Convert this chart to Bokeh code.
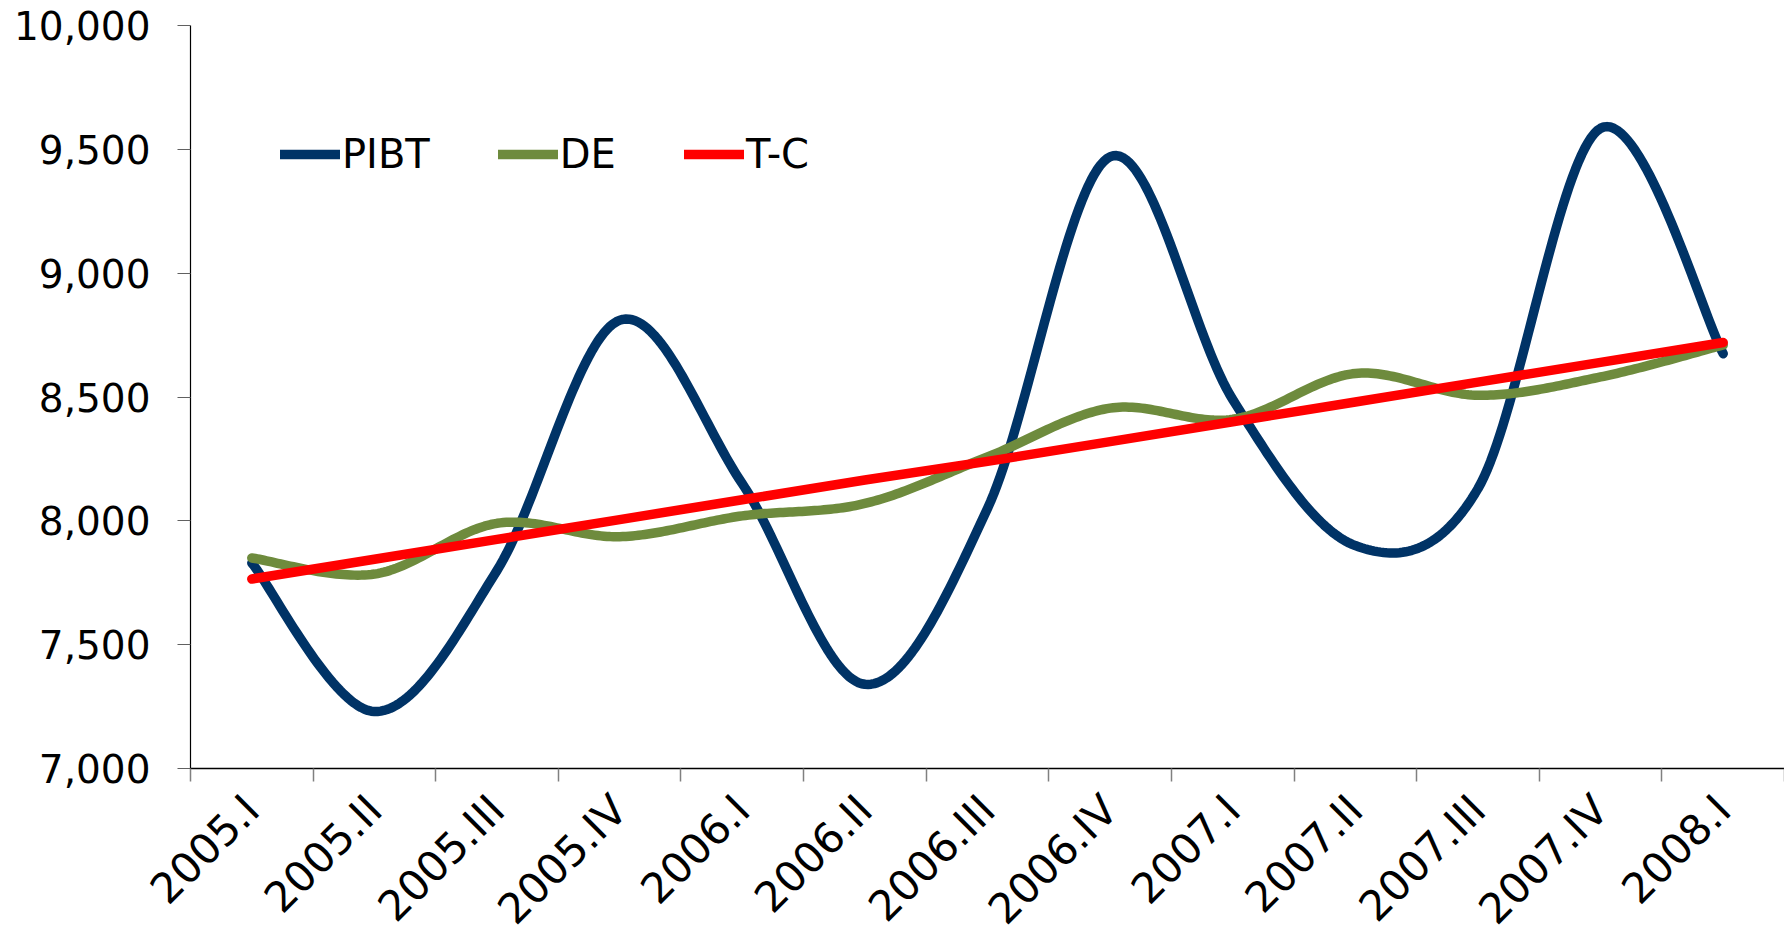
import numpy as np
from bokeh.plotting import figure
from bokeh.models import FixedTicker, NumeralTickFormatter, Legend, LegendItem, Range1d
from bokeh.embed import file_html
from bokeh.resources import INLINE
from math import pi

categories = ["2005.I", "2005.II", "2005.III", "2005.IV", "2006.I", "2006.II", "2006.III",
              "2006.IV", "2007.I", "2007.II", "2007.III", "2007.IV", "2008.I"]
pibt = [7830, 7230, 7800, 8810, 8150, 7340, 8050, 9470, 8490, 7900, 8130, 9585, 8675]
de = [7850, 7785, 7990, 7936, 8020, 8070, 8258, 8455, 8410, 8595, 8507, 8581, 8710]
tc = [7765, 7845, 7925, 8005, 8085, 8165, 8240, 8320, 8400, 8480, 8560, 8640, 8720]
y_ticks = [7000, 7500, 8000, 8500, 9000, 9500, 10000]

FONT = "DejaVu Sans"


def smooth(xs, ys, n=40):
    # Bezier smoothing through the given points (like a spreadsheet's smoothed line)
    xs = np.asarray(xs, float)
    ys = np.asarray(ys, float)
    P = np.column_stack([xs, ys])
    out = []
    m = len(P)
    for i in range(m - 1):
        p0 = P[i - 1] if i > 0 else P[i]
        p1 = P[i]
        p2 = P[i + 1]
        p3 = P[i + 2] if i + 2 < m else P[i + 1]
        c1 = p1 + (p2 - p0) / 6.0
        c2 = p2 - (p3 - p1) / 6.0
        t = np.linspace(0, 1, n)[:, None]
        seg = ((1 - t) ** 3) * p1 + 3 * ((1 - t) ** 2) * t * c1 + 3 * (1 - t) * t ** 2 * c2 + t ** 3 * p2
        out.append(seg if i == 0 else seg[1:])
    arr = np.vstack(out)
    return arr[:, 0], arr[:, 1]


x = np.arange(len(categories))

p = figure(frame_width=1594, frame_height=743, output_backend="svg", toolbar_location=None,
           x_range=Range1d(-0.5, len(categories) - 0.5), y_range=Range1d(7000, 10000),
           min_border_left=190, min_border_right=0, min_border_top=25, min_border_bottom=165)
p.outline_line_color = None
p.xgrid.grid_line_color = None
p.ygrid.grid_line_color = None
p.background_fill_color = "white"

LW = 9.5
sx, sy = smooth(x, pibt)
r1 = p.line(sx, sy, line_color="#003366", line_width=LW, line_cap="round", line_join="round")
sx, sy = smooth(x, de)
r2 = p.line(sx, sy, line_color="#6E8B3D", line_width=LW, line_cap="round", line_join="round")
r3 = p.line(x, tc, line_color="#FF0000", line_width=LW, line_cap="round", line_join="round")

# x axis
xa = p.xaxis[0]
xa.ticker = FixedTicker(ticks=list(x), minor_ticks=[i - 0.5 for i in range(len(categories) + 1)])
xa.major_label_overrides = {int(i): c for i, c in zip(x, categories)}
xa.major_label_orientation = pi / 4
xa.major_tick_line_color = None
xa.major_tick_out = 0
xa.major_tick_in = 0
xa.minor_tick_out = 13
xa.minor_tick_in = 0
xa.minor_tick_line_color = "#808080"
xa.minor_tick_line_width = 1.5
xa.axis_line_color = "black"
xa.axis_line_width = 1.5
xa.major_label_text_font = FONT
xa.major_label_text_font_size = "42px"
xa.major_label_text_color = "black"
xa.major_label_standoff = 21

# y axis
ya = p.yaxis[0]
ya.ticker = FixedTicker(ticks=y_ticks, minor_ticks=[])
ya.formatter = NumeralTickFormatter(format="0,0")
ya.major_tick_out = 13
ya.major_tick_in = 0
ya.major_tick_line_color = "#606060"
ya.major_tick_line_width = 1.2
ya.minor_tick_line_color = None
ya.axis_line_color = "black"
ya.axis_line_width = 1.2
ya.major_label_text_font = FONT
ya.major_label_text_font_size = "39px"
ya.major_label_text_color = "black"
ya.major_label_standoff = 27

legend = Legend(items=[LegendItem(label="PIBT", renderers=[r1]),
                       LegendItem(label="DE", renderers=[r2]),
                       LegendItem(label="T-C", renderers=[r3])],
                orientation="horizontal", location=(90, 591),
                glyph_width=60, glyph_height=40, label_height=40, label_standoff=2,
                spacing=68, padding=0, margin=0,
                label_text_font=FONT, label_text_font_size="40px", label_text_color="black",
                background_fill_alpha=0, border_line_alpha=0)
p.add_layout(legend, "center")

open("out.html", "w").write(file_html(p, INLINE))
